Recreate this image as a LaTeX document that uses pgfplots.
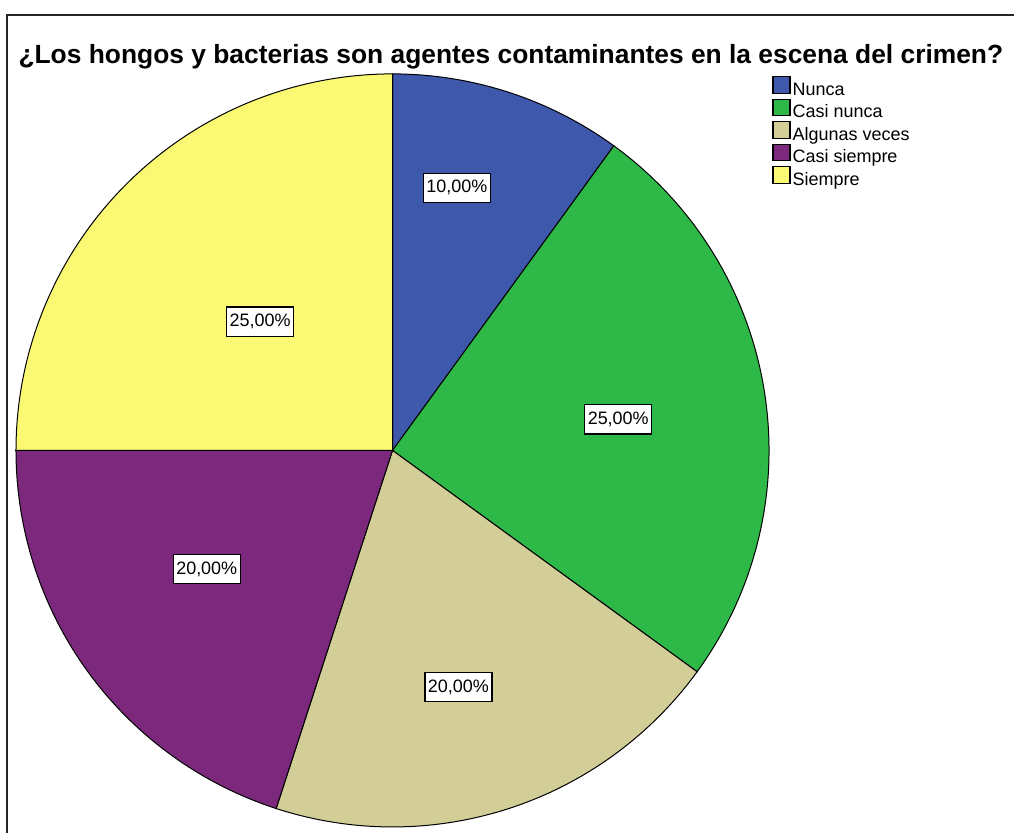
\documentclass[border=0pt]{standalone}
\usepackage{pgfplots}
\pgfplotsset{compat=1.18}
\usepackage{fontspec}
\setmainfont{Liberation Sans}

\definecolor{cNunca}{HTML}{3E58AC}
\definecolor{cCasiNunca}{HTML}{2EB848}
\definecolor{cAlgunas}{HTML}{D3CE97}
\definecolor{cCasiSiempre}{HTML}{7C287D}
\definecolor{cSiempre}{HTML}{FBF873}

% shares in percent, clockwise from 12 o'clock
\def\pA{10}\def\pB{25}\def\pC{20}\def\pD{20}\def\pE{25}
\pgfmathsetmacro\aA{0}
\pgfmathsetmacro\aB{\aA+3.6*\pA}
\pgfmathsetmacro\aC{\aB+3.6*\pB}
\pgfmathsetmacro\aD{\aC+3.6*\pC}
\pgfmathsetmacro\aE{\aD+3.6*\pD}
\pgfmathsetmacro\aF{\aE+3.6*\pE}
\def\R{377}

\begin{document}
\begin{tikzpicture}
\begin{axis}[
  x=0.5pt, y=0.5pt,
  xmin=-393, xmax=622, ymin=-383, ymax=451,
  hide axis, clip=false,
  every axis plot/.append style={draw=black, line width=0.5pt},
  legend image code/.code={\draw[#1,line width=0.6pt] (0pt,-0.9pt) rectangle (8.5pt,7.3pt);},
  legend cell align=left,
  legend style={at={(axis cs:380,375)}, anchor=north west, draw=none, fill=none,
    inner sep=0pt, row sep=0pt, column sep=0pt, font=\fontsize{9}{10}\selectfont,
    nodes={inner xsep=1pt, inner ysep=0.2pt, text height=5.4pt, text depth=1.5pt}},
]
\path (rel axis cs:0,0) rectangle (rel axis cs:1,1);
\draw[line width=1.25pt, black!85] (axis cs:-386,-383) -- (axis cs:-386,436) -- (axis cs:622,436);

\addplot[fill=cNunca, domain=\aA:\aB, samples=40, variable=\t]
  ({\R*sin(\t)},{\R*cos(\t)}) -- (axis cs:0,0) -- cycle;
\addplot[fill=cCasiNunca, domain=\aB:\aC, samples=90, variable=\t]
  ({\R*sin(\t)},{\R*cos(\t)}) -- (axis cs:0,0) -- cycle;
\addplot[fill=cAlgunas, domain=\aC:\aD, samples=75, variable=\t]
  ({\R*sin(\t)},{\R*cos(\t)}) -- (axis cs:0,0) -- cycle;
\addplot[fill=cCasiSiempre, domain=\aD:\aE, samples=75, variable=\t]
  ({\R*sin(\t)},{\R*cos(\t)}) -- (axis cs:0,0) -- cycle;
\addplot[fill=cSiempre, domain=\aE:\aF, samples=90, variable=\t]
  ({\R*sin(\t)},{\R*cos(\t)}) -- (axis cs:0,0) -- cycle;

% value labels
\addplot[forget plot, only marks, mark=*, mark size=0pt, draw=none,
  nodes near coords, point meta=explicit symbolic,
  every node near coord/.style={fill=white, draw=black, line width=0.6pt,
    inner xsep=1.5pt, inner ysep=3.2pt, text height=6.6pt, text depth=1.6pt,
    font=\fontsize{9}{10}\selectfont, anchor=center}]
  coordinates {
    (64.5,263) [10,00\%]
    (226,31) [25,00\%]
    (66,-237) [20,00\%]
    (-186,-119) [20,00\%]
    (-132.5,129) [25,00\%]
  };

\node[font=\bfseries\fontsize{13.2}{15}\selectfont, anchor=base]
  at (axis cs:118.5,387) {¿Los hongos y bacterias son agentes contaminantes en la escena del crimen?};

\legend{Nunca, Casi nunca, Algunas veces, Casi siempre, Siempre}
\end{axis}
\end{tikzpicture}
\end{document}
